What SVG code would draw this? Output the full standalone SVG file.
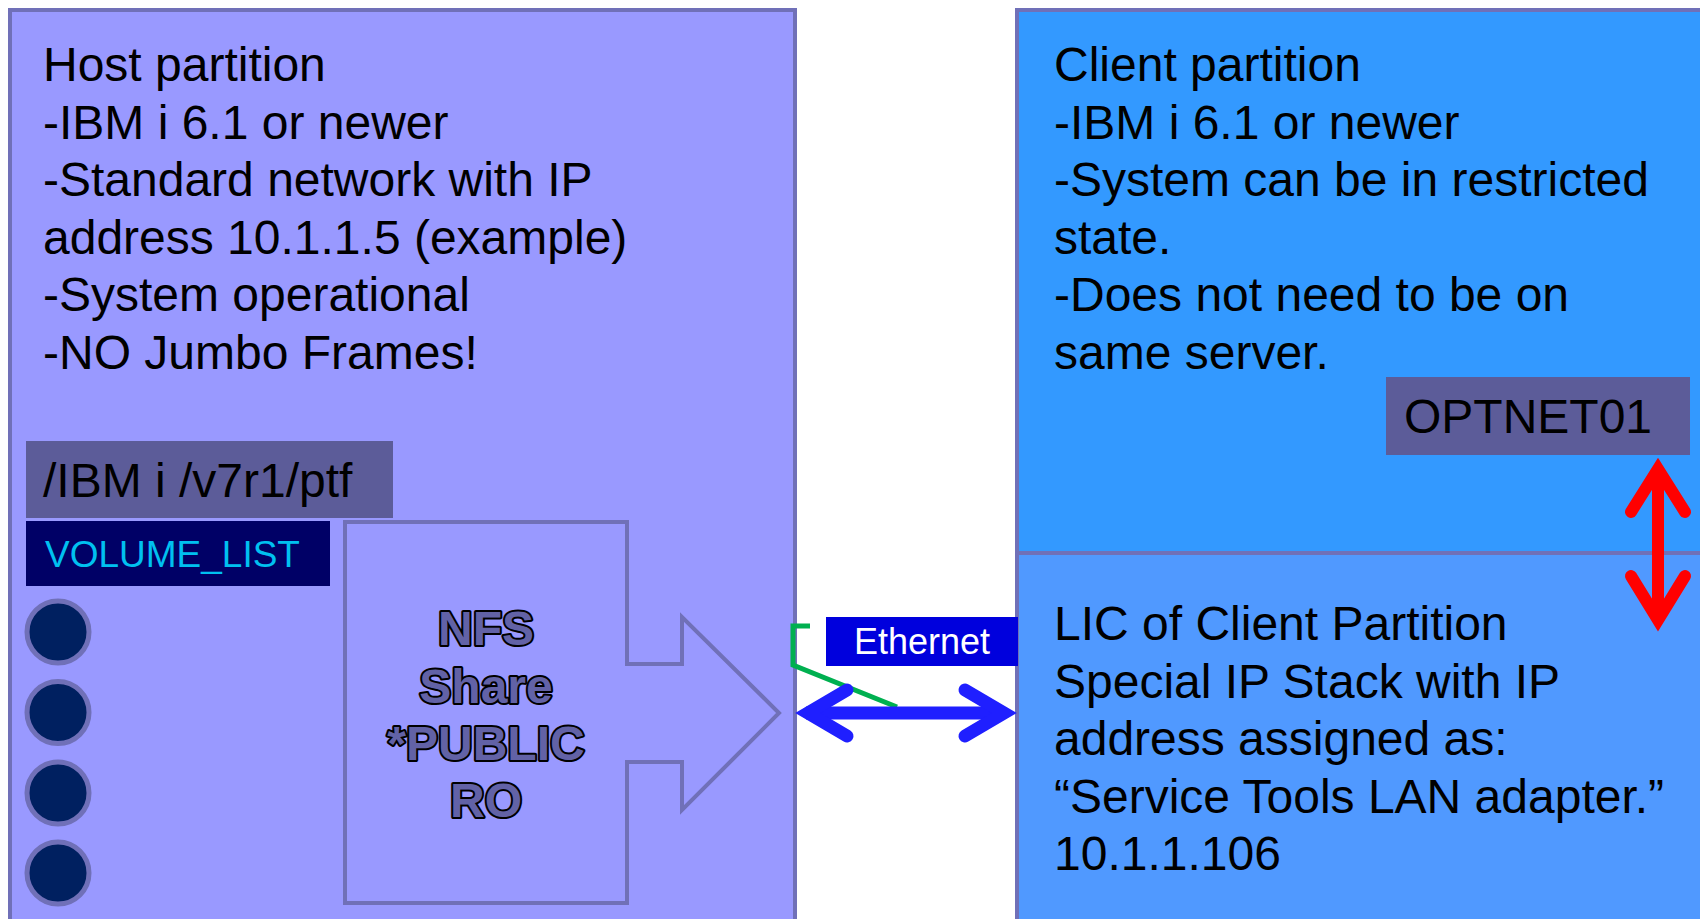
<svg xmlns="http://www.w3.org/2000/svg" width="1700" height="919" viewBox="0 0 1700 919">
<style>
text{font-family:"Liberation Sans",Arial,sans-serif;}
.big{font-size:48px;fill:#000;}
.box{stroke:#7070b8;stroke-width:4;}
.nfs{font-size:48px;font-weight:bold;fill:#6262a6;stroke:#000;stroke-width:4;paint-order:stroke;stroke-linejoin:round;text-anchor:middle;}
.disk{fill:#002060;stroke:#7070b8;stroke-width:5;}
.dark{fill:#5c5c99;}
</style>
<rect width="1700" height="919" fill="#fff"/>
<g id="host">
<rect class="box" x="10" y="10" width="785" height="920" fill="#9999ff"/>
<text class="big" x="43" y="81">Host partition</text>
<text class="big" x="43" y="138.5">-IBM i 6.1 or newer</text>
<text class="big" x="43" y="196">-Standard network with IP</text>
<text class="big" x="43" y="253.5">address 10.1.1.5 (example)</text>
<text class="big" x="43" y="311">-System operational</text>
<text class="big" x="43" y="368.5">-NO Jumbo Frames!</text>
</g>
<g id="ibm-path">
<rect class="dark" x="26" y="441" width="367" height="77"/>
<text class="big" x="43" y="497">/IBM i /v7r1/ptf</text>
</g>
<g id="volume-list">
<rect x="26" y="521" width="304" height="65" fill="#000066"/>
<text x="45" y="567" font-size="37" fill="#00c0f0">VOLUME_LIST</text>
</g>
<g id="disks">
<circle class="disk" cx="58" cy="632" r="31"/>
<circle class="disk" cx="58" cy="712.5" r="31"/>
<circle class="disk" cx="58" cy="793" r="31"/>
<circle class="disk" cx="58" cy="873" r="31"/>
</g>
<g id="nfs-share">
<path class="box" d="M345,522 H627 V664 H682 V617 L779,713 L682,810 V762 H627 V903 H345 Z" fill="#9999ff" stroke-linejoin="miter"/>
<text class="nfs" x="486" y="645">NFS</text>
<text class="nfs" x="486" y="702.5">Share</text>
<text class="nfs" x="486" y="760">*PUBLIC</text>
<text class="nfs" x="486" y="817">RO</text>
</g>
<g id="client">
<rect class="box" x="1017" y="10" width="700" height="543" fill="#3399ff"/>
<text class="big" x="1054" y="81">Client partition</text>
<text class="big" x="1054" y="138.5">-IBM i 6.1 or newer</text>
<text class="big" x="1054" y="196">-System can be in restricted</text>
<text class="big" x="1054" y="253.5">state.</text>
<text class="big" x="1054" y="311">-Does not need to be on</text>
<text class="big" x="1054" y="368.5">same server.</text>
</g>
<g id="lic">
<rect class="box" x="1017" y="553" width="700" height="380" fill="#5099ff"/>
<text class="big" x="1054" y="640">LIC of Client Partition</text>
<text class="big" x="1054" y="697.5">Special IP Stack with IP</text>
<text class="big" x="1054" y="755">address assigned as:</text>
<text class="big" x="1054" y="812.5">“Service Tools LAN adapter.”</text>
<text class="big" x="1054" y="870">10.1.1.106</text>
</g>
<g id="optnet">
<rect class="dark" x="1386" y="377" width="304" height="78"/>
<text class="big" x="1404" y="433">OPTNET01</text>
</g>
<g id="ethernet-label">
<rect x="826" y="617" width="192" height="49" fill="#0000dd"/>
<text x="922" y="654" font-size="36" fill="#fff" text-anchor="middle">Ethernet</text>
</g>
<g id="connectors" fill="none">
<polyline points="810,626 793,626 793,665 897,707" stroke="#00b050" stroke-width="5"/>
<line x1="806" y1="713" x2="1004" y2="713" stroke="#1f1fff" stroke-width="13"/>
<polyline points="847,690 808,713 847,736" stroke="#1f1fff" stroke-width="13" stroke-linecap="round" stroke-linejoin="miter" stroke-miterlimit="10"/>
<polyline points="965,690 1004,713 965,736" stroke="#1f1fff" stroke-width="13" stroke-linecap="round" stroke-linejoin="miter" stroke-miterlimit="10"/>
<line x1="1658" y1="470" x2="1658" y2="620" stroke="#ff0000" stroke-width="12"/>
<polyline points="1631,512 1658,469 1685,512" stroke="#ff0000" stroke-width="12" stroke-linecap="round" stroke-linejoin="miter" stroke-miterlimit="10"/>
<polyline points="1631,576 1658,620 1685,576" stroke="#ff0000" stroke-width="12" stroke-linecap="round" stroke-linejoin="miter" stroke-miterlimit="10"/>
</g>
</svg>
